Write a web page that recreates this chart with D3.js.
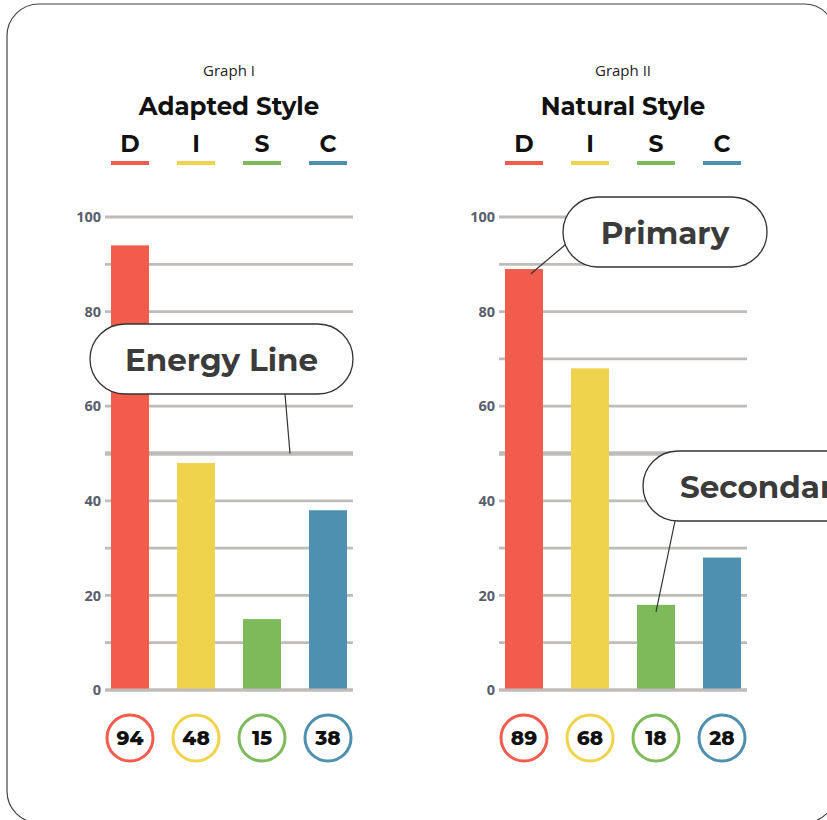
<!DOCTYPE html>
<html>
<head>
<meta charset="utf-8">
<script src="https://cdn.jsdelivr.net/npm/d3@7"></script>
<style>
  html, body { margin: 0; padding: 0; background: #fff; }
  svg { display: block; }
</style>
</head>
<body>
<svg id="chart" width="827" height="820"></svg>
<script>
// DISC profile data
const categories = ["D", "I", "S", "C"];
const adaptedScores = [94, 48, 15, 38];
const naturalScores = [89, 68, 18, 28];
const yTicks = [0, 20, 40, 60, 80, 100];
const gridValues = [0, 10, 20, 30, 40, 50, 60, 70, 80, 90, 100];
const energyLineValue = 50;
const colors = ["#f25c4c", "#f0d34c", "#7fba5a", "#4e90b0"];

const svg = d3.select("#chart");
const titleFont = "Montserrat, 'Open Sans', sans-serif";

// card outline
svg.append("rect")
  .attr("x", 7).attr("y", 4)
  .attr("width", 829).attr("height", 819)
  .attr("rx", 32).attr("ry", 32)
  .attr("fill", "#fff").attr("stroke", "#444").attr("stroke-width", 1.2);

const y = d3.scaleLinear().domain([0, 100]).range([690, 217]);

function drawGraph(opts) {
  const g = svg.append("g");
  const x = d3.scaleBand().domain(categories)
    .range(opts.range).paddingInner(28 / 66).paddingOuter(6 / 66);
  const cx = (opts.range[0] + opts.range[1]) / 2;

  g.append("text").attr("x", cx).attr("y", 76)
    .attr("text-anchor", "middle")
    .attr("font-family", "'Open Sans', sans-serif").attr("font-size", 15)
    .attr("fill", "#222").text(opts.graph);

  g.append("text").attr("x", cx).attr("y", 115)
    .attr("text-anchor", "middle")
    .attr("font-family", titleFont).attr("font-weight", 700).attr("font-size", 24.5)
    .attr("fill", "#111").text(opts.title);

  // DISC header letters with coloured underline
  categories.forEach((c, i) => {
    g.append("text").attr("x", x(c) + x.bandwidth() / 2).attr("y", 152)
      .attr("text-anchor", "middle")
      .attr("font-family", titleFont).attr("font-weight", 700).attr("font-size", 23.5)
      .attr("fill", "#111").text(c);
    g.append("rect").attr("x", x(c)).attr("y", 161)
      .attr("width", x.bandwidth()).attr("height", 4).attr("fill", colors[i]);
  });

  // grid
  g.selectAll(".grid").data(gridValues).join("line")
    .attr("x1", opts.range[0]).attr("x2", opts.range[1])
    .attr("y1", d => y(d)).attr("y2", d => y(d))
    .attr("stroke", "#bfbbb8")
    .attr("stroke-width", d => d === energyLineValue ? 4.5 : 2.8);

  // y axis labels
  const axis = d3.axisLeft(y).tickValues(yTicks).tickSize(0).tickPadding(4);
  const ag = g.append("g").attr("transform", `translate(${opts.range[0]},0)`).call(axis);
  ag.select(".domain").remove();
  ag.selectAll("text")
    .attr("font-family", "'Open Sans', sans-serif").attr("font-weight", 700)
    .attr("font-size", 14.5).attr("fill", "#5a5e6c");

  // bars
  g.selectAll(".bar").data(opts.values).join("rect")
    .attr("x", (d, i) => x(categories[i]))
    .attr("y", d => y(d))
    .attr("width", x.bandwidth())
    .attr("height", d => y(0) - y(d))
    .attr("fill", (d, i) => colors[i]);

  // redraw baseline over bars
  g.append("line").attr("x1", opts.range[0]).attr("x2", opts.range[1])
    .attr("y1", y(0)).attr("y2", y(0)).attr("stroke", "#bfbbb8").attr("stroke-width", 2.8);

  // score badges
  opts.values.forEach((v, i) => {
    const bx = x(categories[i]) + x.bandwidth() / 2;
    g.append("circle").attr("cx", bx).attr("cy", 738).attr("r", 23)
      .attr("fill", "#fff").attr("stroke", colors[i]).attr("stroke-width", 3);
    g.append("text").attr("x", bx).attr("y", 745)
      .attr("text-anchor", "middle")
      .attr("font-family", titleFont).attr("font-weight", 800).attr("font-size", 20)
      .attr("fill", "#111").text(v);
  });
  return { g, x };
}

const left = drawGraph({ range: [105, 353], graph: "Graph I", title: "Adapted Style", values: adaptedScores });
const right = drawGraph({ range: [499, 747], graph: "Graph II", title: "Natural Style", values: naturalScores });

// callout bubbles
function callout(label, box, from, to, textX) {
  svg.append("line")
    .attr("x1", from[0]).attr("y1", from[1]).attr("x2", to[0]).attr("y2", to[1])
    .attr("stroke", "#333").attr("stroke-width", 1.2);
  svg.append("rect")
    .attr("x", box.x).attr("y", box.y).attr("width", box.w).attr("height", box.h)
    .attr("rx", box.h / 2).attr("ry", box.h / 2)
    .attr("fill", "#fff").attr("stroke", "#333").attr("stroke-width", 1.3);
  svg.append("text")
    .attr("x", textX !== undefined ? textX : box.x + box.w / 2)
    .attr("y", box.y + box.h / 2 + 12)
    .attr("text-anchor", textX !== undefined ? "start" : "middle")
    .attr("font-family", titleFont).attr("font-weight", 700).attr("font-size", 31)
    .attr("fill", "#3b3b3b").text(label);
}

callout("Energy Line", { x: 90, y: 324, w: 263, h: 70 },
  [285, 394], [290, y(energyLineValue)]);
callout("Primary", { x: 563, y: 197, w: 204, h: 70 },
  [565, 245], [right.x("D") + 26, y(88)]);
callout("Secondary", { x: 643, y: 451, w: 260, h: 70 },
  [675, 521], [right.x("S") + 19, y(16.5)], 680);
</script>
</body>
</html>
